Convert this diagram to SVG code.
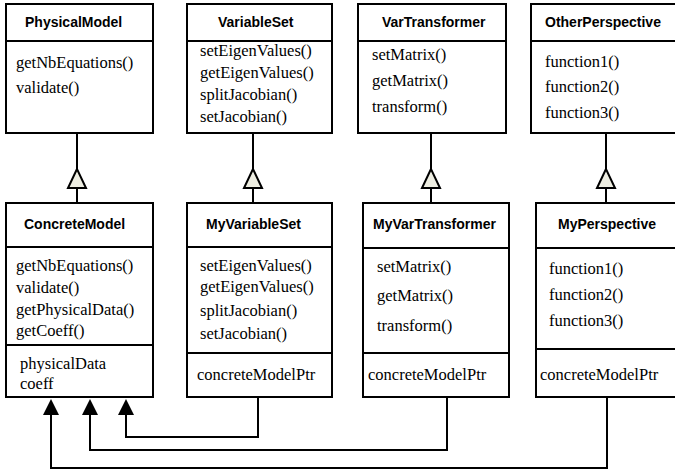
<svg xmlns="http://www.w3.org/2000/svg" width="675" height="471" viewBox="0 0 675 471">
<style>
.box{fill:#fff;stroke:#000;stroke-width:2}
.div{stroke:#000;stroke-width:2}
.h{font-family:"Liberation Sans",Arial,sans-serif;font-weight:bold;font-size:14px;fill:#000}
.m{font-family:"Liberation Serif","Times New Roman",serif;font-size:16.5px;fill:#000}
.ln{fill:none;stroke:#000;stroke-width:2}
.gen{fill:#eeeee2;stroke:#000;stroke-width:2}
.assoc{fill:#000;stroke:none}
</style>
<rect width="675" height="471" fill="#fff"/>
<g id="PhysicalModel">
<rect class="box" x="6" y="4" width="147" height="129"/>
<line class="div" x1="6" y1="41" x2="153" y2="41"/>
<text class="h" x="25" y="27">PhysicalModel</text>
<text class="m" x="16" y="68">getNbEquations()</text>
<text class="m" x="16" y="93">validate()</text>
</g>
<g id="VariableSet">
<rect class="box" x="187" y="4" width="145" height="129"/>
<line class="div" x1="187" y1="41" x2="332" y2="41"/>
<text class="h" x="218" y="27">VariableSet</text>
<text class="m" x="200" y="56">setEigenValues()</text>
<text class="m" x="200" y="78">getEigenValues()</text>
<text class="m" x="200" y="100">splitJacobian()</text>
<text class="m" x="200" y="122">setJacobian()</text>
</g>
<g id="VarTransformer">
<rect class="box" x="358" y="4" width="148" height="129"/>
<line class="div" x1="358" y1="41" x2="506" y2="41"/>
<text class="h" x="382" y="27">VarTransformer</text>
<text class="m" x="372" y="60">setMatrix()</text>
<text class="m" x="372" y="86">getMatrix()</text>
<text class="m" x="372" y="112">transform()</text>
</g>
<g id="OtherPerspective">
<rect class="box" x="531" y="4" width="160" height="129"/>
<line class="div" x1="531" y1="41" x2="691" y2="41"/>
<text class="h" x="545" y="27">OtherPerspective</text>
<text class="m" x="545" y="67">function1()</text>
<text class="m" x="545" y="92">function2()</text>
<text class="m" x="545" y="118">function3()</text>
</g>
<g id="ConcreteModel">
<rect class="box" x="6" y="203" width="147" height="194"/>
<line class="div" x1="6" y1="247" x2="153" y2="247"/>
<line class="div" x1="6" y1="345" x2="153" y2="345"/>
<text class="h" x="24" y="229">ConcreteModel</text>
<text class="m" x="16" y="271">getNbEquations()</text>
<text class="m" x="16" y="293">validate()</text>
<text class="m" x="16" y="315">getPhysicalData()</text>
<text class="m" x="16" y="336">getCoeff()</text>
<text class="m" x="20" y="369">physicalData</text>
<text class="m" x="20" y="389">coeff</text>
</g>
<g id="MyVariableSet">
<rect class="box" x="187" y="203" width="145" height="194"/>
<line class="div" x1="187" y1="247" x2="332" y2="247"/>
<line class="div" x1="187" y1="353" x2="332" y2="353"/>
<text class="h" x="206" y="229">MyVariableSet</text>
<text class="m" x="200" y="271">setEigenValues()</text>
<text class="m" x="200" y="292">getEigenValues()</text>
<text class="m" x="200" y="316">splitJacobian()</text>
<text class="m" x="200" y="339">setJacobian()</text>
<text class="m" x="197" y="380">concreteModelPtr</text>
</g>
<g id="MyVarTransformer">
<rect class="box" x="363" y="203" width="146" height="194"/>
<line class="div" x1="363" y1="248" x2="509" y2="248"/>
<line class="div" x1="363" y1="353" x2="509" y2="353"/>
<text class="h" x="373" y="229">MyVarTransformer</text>
<text class="m" x="377" y="272">setMatrix()</text>
<text class="m" x="377" y="301">getMatrix()</text>
<text class="m" x="377" y="331">transform()</text>
<text class="m" x="368" y="380">concreteModelPtr</text>
</g>
<g id="MyPerspective">
<rect class="box" x="536" y="203" width="160" height="194"/>
<line class="div" x1="536" y1="248" x2="696" y2="248"/>
<line class="div" x1="536" y1="349" x2="696" y2="349"/>
<text class="h" x="558" y="229">MyPerspective</text>
<text class="m" x="549" y="274">function1()</text>
<text class="m" x="549" y="300">function2()</text>
<text class="m" x="549" y="326">function3()</text>
<text class="m" x="540" y="380">concreteModelPtr</text>
</g>
<g id="connectors">
<line class="ln" x1="77" y1="133" x2="77" y2="169"/>
<line class="ln" x1="77" y1="188" x2="77" y2="203"/>
<polygon class="gen" points="77,169 68,188 86,188"/>
<line class="ln" x1="253" y1="133" x2="253" y2="169"/>
<line class="ln" x1="253" y1="188" x2="253" y2="203"/>
<polygon class="gen" points="253,169 244,188 262,188"/>
<line class="ln" x1="431" y1="133" x2="431" y2="169"/>
<line class="ln" x1="431" y1="188" x2="431" y2="203"/>
<polygon class="gen" points="431,169 422,188 440,188"/>
<line class="ln" x1="606" y1="133" x2="606" y2="169"/>
<line class="ln" x1="606" y1="188" x2="606" y2="203"/>
<polygon class="gen" points="606,169 597,188 615,188"/>
<polyline class="ln" points="258,397 258,437 126,437 126,414"/>
<polygon class="assoc" points="126,399 118,415 134,415"/>
<polyline class="ln" points="447,397 447,450 90,450 90,414"/>
<polygon class="assoc" points="90,399 82,415 98,415"/>
<polyline class="ln" points="607,397 607,468 51,468 51,414"/>
<polygon class="assoc" points="51,399 43,415 59,415"/>
</g>
</svg>
